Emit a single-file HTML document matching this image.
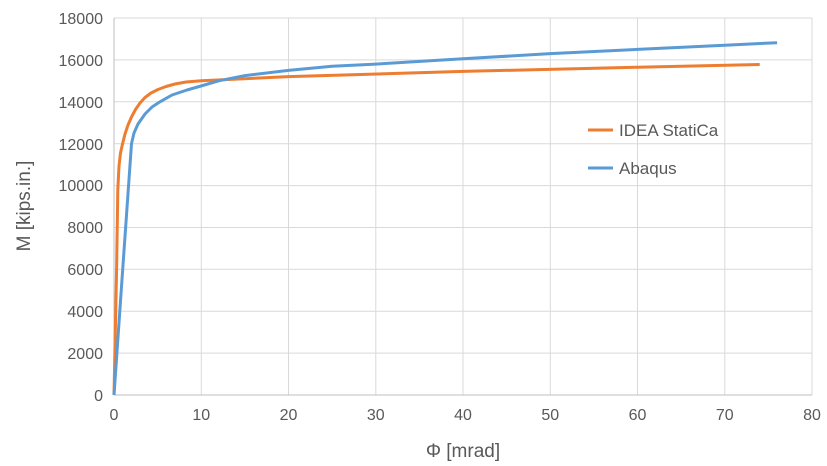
<!DOCTYPE html>
<html><head><meta charset="utf-8"><style>
html,body{margin:0;padding:0;background:#fff;}
svg{display:block;font-family:"Liberation Sans",sans-serif;}
</style></head><body>
<svg width="827" height="466" viewBox="0 0 827 466" xmlns="http://www.w3.org/2000/svg">
<rect width="827" height="466" fill="#fff"/>
<g stroke="#d9d9d9" stroke-width="1">
<line x1="114" y1="18" x2="812" y2="18"/>
<line x1="114" y1="59.9" x2="812" y2="59.9"/>
<line x1="114" y1="101.8" x2="812" y2="101.8"/>
<line x1="114" y1="143.7" x2="812" y2="143.7"/>
<line x1="114" y1="185.6" x2="812" y2="185.6"/>
<line x1="114" y1="227.5" x2="812" y2="227.5"/>
<line x1="114" y1="269.3" x2="812" y2="269.3"/>
<line x1="114" y1="311.2" x2="812" y2="311.2"/>
<line x1="114" y1="353.1" x2="812" y2="353.1"/>
<line x1="201.3" y1="18" x2="201.3" y2="395"/>
<line x1="288.5" y1="18" x2="288.5" y2="395"/>
<line x1="375.8" y1="18" x2="375.8" y2="395"/>
<line x1="463" y1="18" x2="463" y2="395"/>
<line x1="550.3" y1="18" x2="550.3" y2="395"/>
<line x1="637.5" y1="18" x2="637.5" y2="395"/>
<line x1="724.8" y1="18" x2="724.8" y2="395"/>
<line x1="812" y1="18" x2="812" y2="395"/>
</g>
<line x1="114" y1="18" x2="114" y2="395" stroke="#bfbfbf"/>
<line x1="114" y1="395" x2="812" y2="395" stroke="#bfbfbf"/>
<g font-size="16" fill="#595959" text-anchor="end">
<text x="103" y="24">18000</text><text x="103" y="66">16000</text><text x="103" y="108">14000</text>
<text x="103" y="150">12000</text><text x="103" y="191">10000</text><text x="103" y="233">8000</text>
<text x="103" y="275">6000</text><text x="103" y="317">4000</text><text x="103" y="359">2000</text>
<text x="103" y="401">0</text>
</g>
<g font-size="16" fill="#595959" text-anchor="middle">
<text x="114" y="420">0</text><text x="201.3" y="420">10</text><text x="288.5" y="420">20</text>
<text x="375.8" y="420">30</text><text x="463" y="420">40</text><text x="550.3" y="420">50</text>
<text x="637.5" y="420">60</text><text x="724.8" y="420">70</text><text x="812" y="420">80</text>
</g>
<text x="463" y="457" font-size="19" fill="#595959" text-anchor="middle">Φ [mrad]</text>
<text transform="translate(30,206) rotate(-90)" font-size="19" fill="#595959" text-anchor="middle">M [kips.in.]</text>
<polyline fill="none" stroke="#ed7d31" stroke-width="3" stroke-linejoin="round" points="114,395 116.6,269 117.8,190 119,166 120.5,153 122.5,144 125,134 128,125 131.5,117 135.5,109.5 140,103 145,97.5 151,93 158,89.5 166,86.5 175,84 186,82 201.3,80.8 288.5,76.6 463,71.4 637.5,67.2 759.7,64.5"/>
<polyline fill="none" stroke="#5b9bd5" stroke-width="3" stroke-linejoin="round" points="114,395 122.7,269.3 131.5,143.7 134,133 138,124 145,114 152,107 160,101.8 172,95 187,90 201,86 218.7,80.8 244.9,75.6 288.5,70.4 332.1,66.2 375.8,64.1 463,58.8 550.3,53.6 637.5,49.4 724.8,45.2 777.1,42.7"/>
<line x1="588" y1="130" x2="613" y2="130" stroke="#ed7d31" stroke-width="3"/>
<text x="619" y="136" font-size="17" fill="#595959">IDEA StatiCa</text>
<line x1="588" y1="168" x2="613" y2="168" stroke="#5b9bd5" stroke-width="3"/>
<text x="619" y="174" font-size="17" fill="#595959">Abaqus</text>
</svg>
</body></html>
